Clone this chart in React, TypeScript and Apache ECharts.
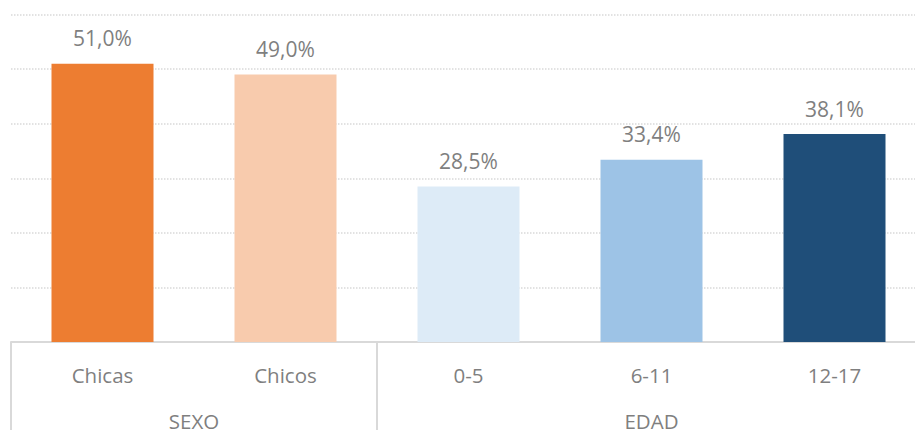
import React, { useEffect, useRef } from "react";
import * as echarts from "echarts";

const categories = ["Chicas", "Chicos", "0-5", "6-11", "12-17"];
const values = [51.0, 49.0, 28.5, 33.4, 38.1];
const groups = [
  { name: "SEXO", from: 0, to: 1 },
  { name: "EDAD", from: 2, to: 4 },
];
const barColors = ["#ED7D31", "#F8CBAD", "#DDEBF7", "#9DC3E6", "#1F4E79"];

const FONT = "'Open Sans', 'Noto Sans', sans-serif";
const GRAY = "#7f7f7f";
const LINE = "#d9d9d9";

export default function App() {
  const ref = useRef<HTMLDivElement>(null);
  useEffect(() => {
    if (!ref.current) return;
    document.body.style.overflow = "hidden";
    const chart = echarts.init(ref.current, null, { renderer: "svg" });
    const groupStarts = groups.map((g) => g.from);
    chart.setOption({
      animation: false,
      grid: { left: 11, width: 915, top: 14.5, bottom: 88, containLabel: false },
      xAxis: {
        type: "category",
        data: categories,
        boundaryGap: true,
        axisLine: { show: true, lineStyle: { color: LINE, width: 2 } },
        axisTick: {
          show: true,
          length: 90,
          inside: false,
          lineStyle: { color: LINE, width: 2 },
          interval: (index: number) => groupStarts.includes(index),
        },
        axisLabel: { color: GRAY, fontSize: 20.5, fontFamily: FONT, margin: 22 },
      },
      yAxis: {
        type: "value",
        min: 0,
        max: 60,
        interval: 10,
        axisLabel: { show: false },
        axisLine: { show: false },
        axisTick: { show: false },
        splitLine: { show: true, lineStyle: { color: LINE, width: 1.5, type: [1.5, 1.5] } },
      },
      series: [
        {
          type: "bar",
          barWidth: 102,
          data: values.map((v, i) => ({ value: v, itemStyle: { color: barColors[i] } })),
          label: {
            show: true,
            position: "top",
            distance: 15,
            color: GRAY,
            fontSize: 21,
            fontFamily: FONT,
            formatter: (p: any) => p.value.toFixed(1).replace(".", ",") + "%",
          },
        },
      ],
    });
    const labels = groups.map((g) => {
      const x1 = chart.convertToPixel({ xAxisIndex: 0 }, g.from) as number;
      const x2 = chart.convertToPixel({ xAxisIndex: 0 }, g.to) as number;
      return {
        type: "text",
        x: (x1 + x2) / 2,
        y: 421,
        style: {
          text: g.name,
          fill: GRAY,
          fontSize: 20.5,
          fontFamily: FONT,
          align: "center",
          verticalAlign: "middle",
        },
      };
    });
    chart.setOption({ graphic: labels });
    return () => chart.dispose();
  }, []);
  return (
    <div
      ref={ref}
      style={{ position: "fixed", left: 0, top: 0, width: 940, height: 430, background: "#fff" }}
    />
  );
}
